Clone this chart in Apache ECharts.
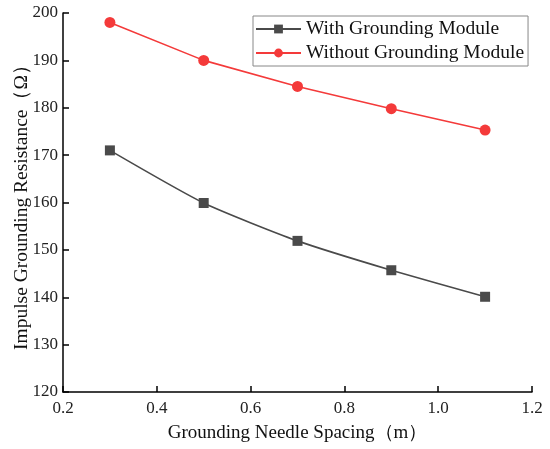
<!DOCTYPE html>
<html>
<head>
<meta charset="utf-8">
<script src="https://cdn.jsdelivr.net/npm/echarts@6/dist/echarts.min.js"></script>
<style>
  html, body { margin: 0; padding: 0; background: #fff; }
  #main { width: 550px; height: 449px; }
</style>
</head>
<body>
<div id="main"></div>
<script>
// spacing of grounding needles (m)
const spacing = [0.3, 0.5, 0.7, 0.9, 1.1];
// impulse grounding resistance (Ω)
const withModule = [171, 159.9, 151.9, 145.7, 140.1];
const withoutModule = [198, 190, 184.5, 179.8, 175.3];
const seriesNames = ['With Grounding Module', 'Without Grounding Module'];

const serif = '"Liberation Serif", "Times New Roman", serif';

function pairs(xs, ys) {
  return xs.map((x, i) => [x, ys[i]]);
}

let myChart = echarts.init(document.getElementById('main'));
let options = {
  animation: false,
  grid: { left: 63, right: 18, top: 13, bottom: 57, containLabel: false, outerBoundsMode: 'none' },
  legend: {
    left: 253,
    top: 16,
    orient: 'vertical',
    borderColor: '#888',
    borderWidth: 1,
    borderRadius: 0,
    padding: [3, 4, 3, 2],
    itemGap: 4,
    itemWidth: 45,
    itemHeight: 11,
    textStyle: { fontFamily: serif, fontSize: 19.5, color: '#111' },
    data: seriesNames
  },
  xAxis: {
    type: 'value',
    min: 0.2,
    max: 1.2,
    interval: 0.2,
    name: 'Grounding Needle Spacing（m）',
    nameLocation: 'middle',
    nameGap: 32,
    nameTextStyle: { fontFamily: serif, fontSize: 19, color: '#111' },
    axisLine: { lineStyle: { color: '#000', width: 1.5 } },
    axisTick: { inside: true, length: 6, lineStyle: { color: '#000', width: 1.5 } },
    axisLabel: {
      fontFamily: serif, fontSize: 17, color: '#222', margin: 8,
      formatter: v => v.toFixed(1)
    },
    splitLine: { show: false }
  },
  yAxis: {
    type: 'value',
    min: 120,
    max: 200,
    interval: 10,
    name: 'Impulse Grounding Resistance（Ω）',
    nameLocation: 'middle',
    nameGap: 31,
    nameMoveOverlap: false,
    nameTextStyle: { fontFamily: serif, fontSize: 19.5, color: '#111' },
    axisLine: { show: true, lineStyle: { color: '#000', width: 1.5 } },
    axisTick: { show: true, inside: true, length: 6, lineStyle: { color: '#000', width: 1.5 } },
    axisLabel: { fontFamily: serif, fontSize: 17, color: '#222', margin: 5 },
    splitLine: { show: false }
  },
  series: [{
    name: seriesNames[0],
    type: 'line',
    smooth: 0.2,
    data: pairs(spacing, withModule),
    symbol: 'rect',
    symbolSize: 10,
    itemStyle: { color: '#4a4a4a' },
    lineStyle: { color: '#4a4a4a', width: 1.6 }
  }, {
    name: seriesNames[1],
    type: 'line',
    data: pairs(spacing, withoutModule),
    symbol: 'circle',
    symbolSize: 11,
    itemStyle: { color: '#f43a3a' },
    lineStyle: { color: '#f43a3a', width: 1.6 }
  }]
};
myChart.setOption(options, true);
</script>
</body>
</html>
